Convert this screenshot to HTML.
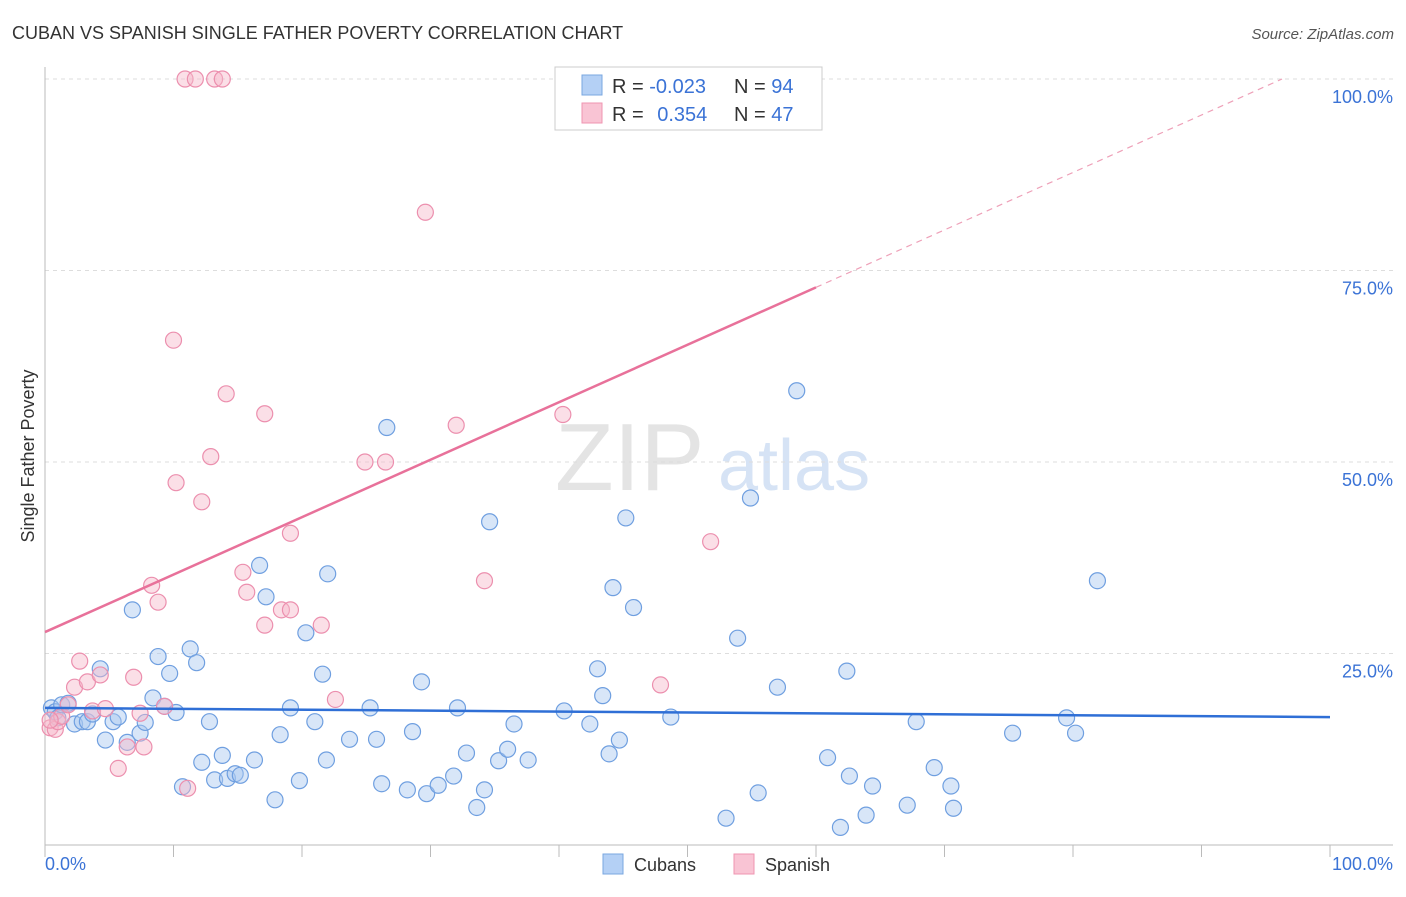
<!DOCTYPE html>
<html><head><meta charset="utf-8"><style>
body{margin:0;background:#fff;font-family:"Liberation Sans",sans-serif;}
svg text{font-family:"Liberation Sans",sans-serif;}
</style></head><body>
<svg id="chart" width="1406" height="892" viewBox="0 0 1406 892">
<text x="12" y="39" font-size="18" fill="#333">CUBAN VS SPANISH SINGLE FATHER POVERTY CORRELATION CHART</text>
<text x="1394" y="39" font-size="15" fill="#555" font-style="italic" text-anchor="end">Source: ZipAtlas.com</text>
<text x="0" y="0" transform="translate(34,456) rotate(-90)" font-size="18" fill="#333" text-anchor="middle">Single Father Poverty</text>
<g>
<text x="555" y="490" font-size="96" fill="#e4e4e4" font-family="Liberation Serif">ZIP</text>
<text x="718" y="490" font-size="72" fill="#d6e3f5">atlas</text>
</g>
<g id="grid"></g><g id="axes"></g><g id="pts"></g><g id="lines"></g>
<g>
<rect x="555" y="67" width="267" height="63" fill="#fff" stroke="#ccc"/>
<rect x="582" y="75" width="20" height="20" fill="#b4d0f5" stroke="#7aa7e0"/>
<rect x="582" y="103" width="20" height="20" fill="#f9c4d4" stroke="#ef95b1"/>
<text x="612" y="93" font-size="20" fill="#333">R = <tspan fill="#3b73d6">-0.023</tspan></text>
<text x="734" y="93" font-size="20" fill="#333">N = <tspan fill="#3b73d6">94</tspan></text>
<text x="612" y="121" font-size="20" fill="#333">R = <tspan fill="#3b73d6" dx="8">0.354</tspan></text>
<text x="734" y="121" font-size="20" fill="#333">N = <tspan fill="#3b73d6">47</tspan></text>
</g>
<g>
<rect x="603" y="854" width="20" height="20" fill="#b4d0f5" stroke="#7aa7e0"/>
<text x="634" y="871" font-size="18" fill="#333">Cubans</text>
<rect x="734" y="854" width="20" height="20" fill="#f9c4d4" stroke="#ef95b1"/>
<text x="765" y="871" font-size="18" fill="#333">Spanish</text>
</g>
</svg>
<script>
const cubanX=[0.5,0.8,1,1.3,1.8,2.3,2.9,3.3,3.7,4.3,4.7,5.3,5.7,6.4,6.8,7.4,7.8,8.4,8.8,9.3,9.7,10.2,10.7,11.3,11.8,12.2,12.8,13.2,13.8,14.2,14.8,15.2,16.3,16.7,17.2,17.9,18.3,19.1,19.8,20.3,21,21.6,21.9,22,23.7,25.3,25.8,26.2,26.6,28.2,28.6,29.3,29.7,30.6,31.8,32.1,32.8,33.6,34.2,34.6,35.3,36,36.5,37.6,40.4,42.4,43,43.4,43.9,44.2,44.7,45.2,45.8,48.7,53,53.9,54.9,55.5,57,58.5,60.9,61.9,62.4,62.6,63.9,64.4,67.1,67.8,69.2,70.5,70.7,75.3,79.5,80.2,81.9];
const cubanY=[17.9,17.4,16.6,18.3,18.5,15.8,16.1,16.1,17.1,23,13.7,16.1,16.7,13.4,30.7,14.6,16,19.2,24.6,18.1,22.4,17.3,7.6,25.6,23.8,10.8,16.1,8.5,11.7,8.7,9.3,9.1,11.1,36.5,32.4,5.9,14.4,17.9,8.4,27.7,16.1,22.3,11.1,35.4,13.8,17.9,13.8,8,54.5,7.2,14.8,21.3,6.7,7.8,9,17.9,12,4.9,7.2,42.2,11,12.5,15.8,11.1,17.5,15.8,23,19.5,11.9,33.6,13.7,42.7,31,16.7,3.5,27,45.3,6.8,20.6,59.3,11.4,2.3,22.7,9,3.9,7.7,5.2,16.1,10.1,7.7,4.8,14.6,16.6,14.6,34.5];
const spanX=[0.4,0.8,1,1.3,1.8,2.3,2.7,3.3,3.7,4.3,4.7,5.7,6.4,6.9,7.4,7.7,8.3,8.8,9.3,10,10.2,10.9,11.7,11.1,12.2,12.9,13.2,13.8,14.1,15.4,15.7,17.1,17.1,18.4,19.1,19.1,21.5,22.6,24.9,26.5,29.6,32,34.2,40.3,47.9,51.8,0.4];
const spanY=[15.3,15.1,16.1,16.8,18.3,20.6,24,21.3,17.5,22.2,17.8,10,12.8,21.9,17.2,12.8,33.9,31.7,18.1,65.9,47.3,100,100,7.4,44.8,50.7,100,100,58.9,35.6,33,56.3,28.7,30.7,30.7,40.7,28.7,19,50,50,82.6,54.8,34.5,56.2,20.9,39.6,16.3];
const cubanTrend=[17.9,-0.012];
const spanTrend=[27.8,0.75];
const yTicks=[25,50,75,100];
const yTickLabels=["25.0%","50.0%","75.0%","100.0%"];
const xTicks=[0,10,20,30,40,50,60,70,80,90,100];
const NS="http://www.w3.org/2000/svg";
const X0=45,X1=1330,Y0=845,YH=79;
const sx=v=>X0+(X1-X0)*v/100, sy=v=>Y0-(Y0-YH)*v/100;
function mk(t,a,p){const e=document.createElementNS(NS,t);for(const k in a)e.setAttribute(k,a[k]);p.appendChild(e);return e;}
const grid=document.getElementById('grid'),axes=document.getElementById('axes'),pts=document.getElementById('pts'),lines=document.getElementById('lines');
yTicks.forEach((v,i)=>{
 const l=mk('line',{x1:X0,x2:1393,y1:sy(v),y2:sy(v),stroke:'#ddd','stroke-dasharray':'4,4'},grid);
 
 
 const t=mk('text',{x:1393,y:sy(v)+24,'font-size':18,fill:'#3b73d6','text-anchor':'end'},axes);
 t.textContent=yTickLabels[i];
 
 
});
const ax=mk('line',{x1:X0,x2:X0,y1:67,y2:Y0,stroke:'#bbb'},axes);


const bx=mk('line',{x1:X0,x2:1393,y1:Y0,y2:Y0,stroke:'#bbb'},axes);


xTicks.forEach(v=>{
 const t=mk('line',{x1:sx(v),x2:sx(v),y1:Y0,y2:Y0+12,stroke:'#bbb'},axes);
 
 
});
const xl=mk('text',{x:45,y:870,'font-size':18,fill:'#3b73d6'},axes);xl.textContent='0.0%';


const xr=mk('text',{x:1393,y:870,'font-size':18,fill:'#3b73d6','text-anchor':'end'},axes);xr.textContent='100.0%';


function dots(xs,ys,fill,stroke,name){const n=Math.min(xs.length,ys.length);for(let i=0;i<n;i++){
 const c=mk('circle',{cx:sx(xs[i]),cy:sy(ys[i]),r:8,fill:fill,'fill-opacity':0.45,stroke:stroke,'stroke-width':1.2},pts);
 
 
}}
dots(cubanX,cubanY,'#a8c8f0','#6f9fe0','cuban');
dots(spanX,spanY,'#f6b7ca','#ec8fae','spanish');
const [cb,cs]=cubanTrend;
const cl=mk('line',{x1:sx(0),y1:sy(cb),x2:sx(100),y2:sy(cb+cs*100),stroke:'#2f6fd6','stroke-width':2.5},lines);


const [pb,ps]=spanTrend;
const xe=60;
const pl=mk('line',{x1:sx(0),y1:sy(pb),x2:sx(xe),y2:sy(pb+ps*xe),stroke:'#e8719a','stroke-width':2.5},lines);


const xEnd=Math.min(100,(100-pb)/ps);
const pd=mk('line',{x1:sx(xe),y1:sy(pb+ps*xe),x2:sx(xEnd),y2:sy(pb+ps*xEnd),stroke:'#eea0b8','stroke-width':1.2,'stroke-dasharray':'6,5'},lines);


</script>
</body></html>
